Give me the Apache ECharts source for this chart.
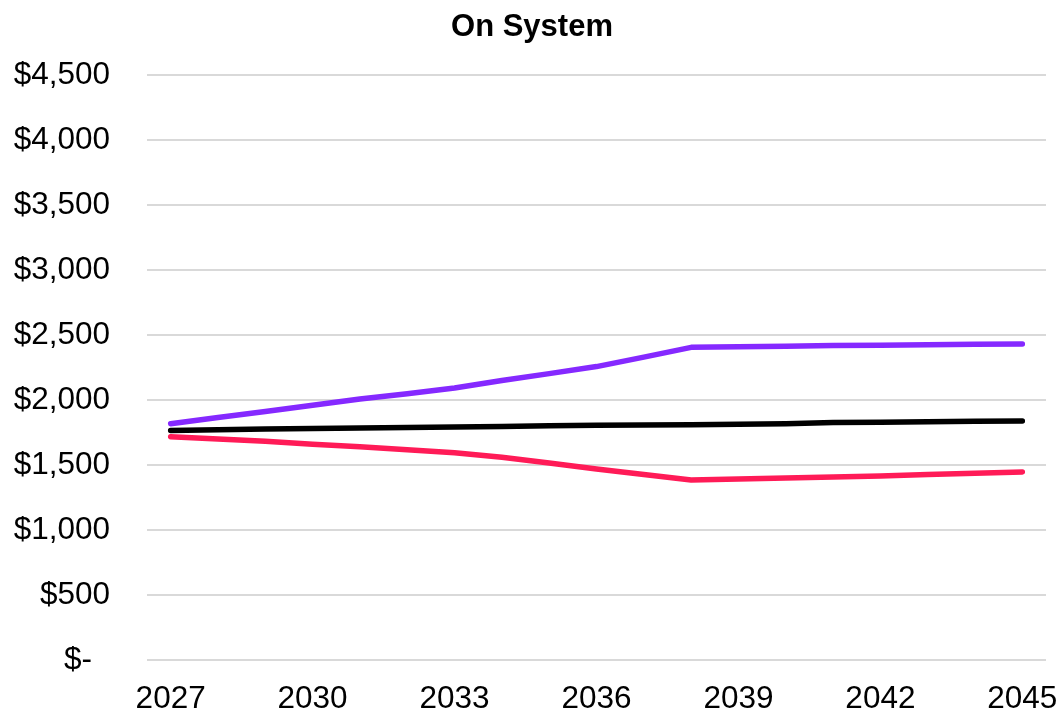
<!DOCTYPE html>
<html>
<head>
<meta charset="utf-8">
<title>On System</title>
<script src="https://cdn.jsdelivr.net/npm/echarts@6/dist/echarts.min.js"></script>
<style>
  html, body { margin: 0; padding: 0; background: #ffffff; }
  #chart { width: 1064px; height: 715px; }
</style>
</head>
<body>
<div id="chart"></div>
<script>
// Years on the category axis
const years = ['2027','2028','2029','2030','2031','2032','2033','2034','2035','2036',
               '2037','2038','2039','2040','2041','2042','2043','2044','2045'];

// Upper scenario (purple)
const highCase = [1818, 1865, 1912, 1960, 2008, 2048, 2092, 2150, 2203, 2257,
                  2330, 2405, 2410, 2414, 2419, 2422, 2425, 2428, 2431];

// Reference scenario (black)
const baseCase = [1765, 1772, 1777, 1781, 1785, 1789, 1793, 1797, 1802, 1805,
                  1808, 1810, 1813, 1818, 1826, 1829, 1832, 1836, 1838];

// Lower scenario (pink)
const lowCase = [1718, 1700, 1682, 1660, 1640, 1618, 1594, 1559, 1516, 1470,
                 1427, 1385, 1392, 1400, 1408, 1416, 1426, 1437, 1447];

// Y-axis range and step
const yMin = 0;
const yMax = 4500;
const yStep = 500;

const FONT = 'Liberation Sans, Arial, sans-serif';
const LABEL_SIZE = 31.5;

function money(v) {
  if (v === 0) return '{z|$-}';
  return '$' + v.toLocaleString('en-US');
}

function lineSeries(name, data, color) {
  return {
    name: name,
    type: 'line',
    data: data,
    symbol: 'none',
    smooth: false,
    lineStyle: { color: color, width: 5.5, cap: 'round', join: 'round' },
    itemStyle: { color: color },
    animation: false
  };
}

const chart = echarts.init(document.getElementById('chart'), null, { renderer: 'canvas' });
chart.setOption({
  backgroundColor: '#ffffff',
  animation: false,
  title: {
    text: 'On System',
    left: 'center',
    top: 7,
    textStyle: { fontFamily: FONT, fontSize: 31, fontWeight: 'bold', color: '#000000' }
  },
  grid: { left: 147, right: 18, top: 75, bottom: 54, containLabel: false },
  xAxis: {
    type: 'category',
    data: years,
    boundaryGap: true,
    axisLine: { show: false },
    axisTick: { show: false },
    axisLabel: {
      interval: 2,
      margin: 23,
      fontFamily: FONT,
      fontSize: LABEL_SIZE,
      color: '#000000'
    },
    splitLine: { show: false }
  },
  yAxis: {
    type: 'value',
    min: yMin,
    max: yMax,
    interval: yStep,
    axisLine: { show: false },
    axisTick: { show: false },
    axisLabel: {
      margin: 37,
      fontFamily: FONT,
      fontSize: LABEL_SIZE,
      color: '#000000',
      formatter: money,
      rich: {
        z: { fontFamily: FONT, fontSize: LABEL_SIZE, color: '#000000', padding: [0, 18, 0, 0] }
      }
    },
    splitLine: { show: true, lineStyle: { color: '#d9d9d9', width: 2 } }
  },
  series: [
    lineSeries('High', highCase, '#8529ff'),
    lineSeries('Base', baseCase, '#000000'),
    lineSeries('Low', lowCase, '#ff1b57')
  ]
});
</script>
</body>
</html>
